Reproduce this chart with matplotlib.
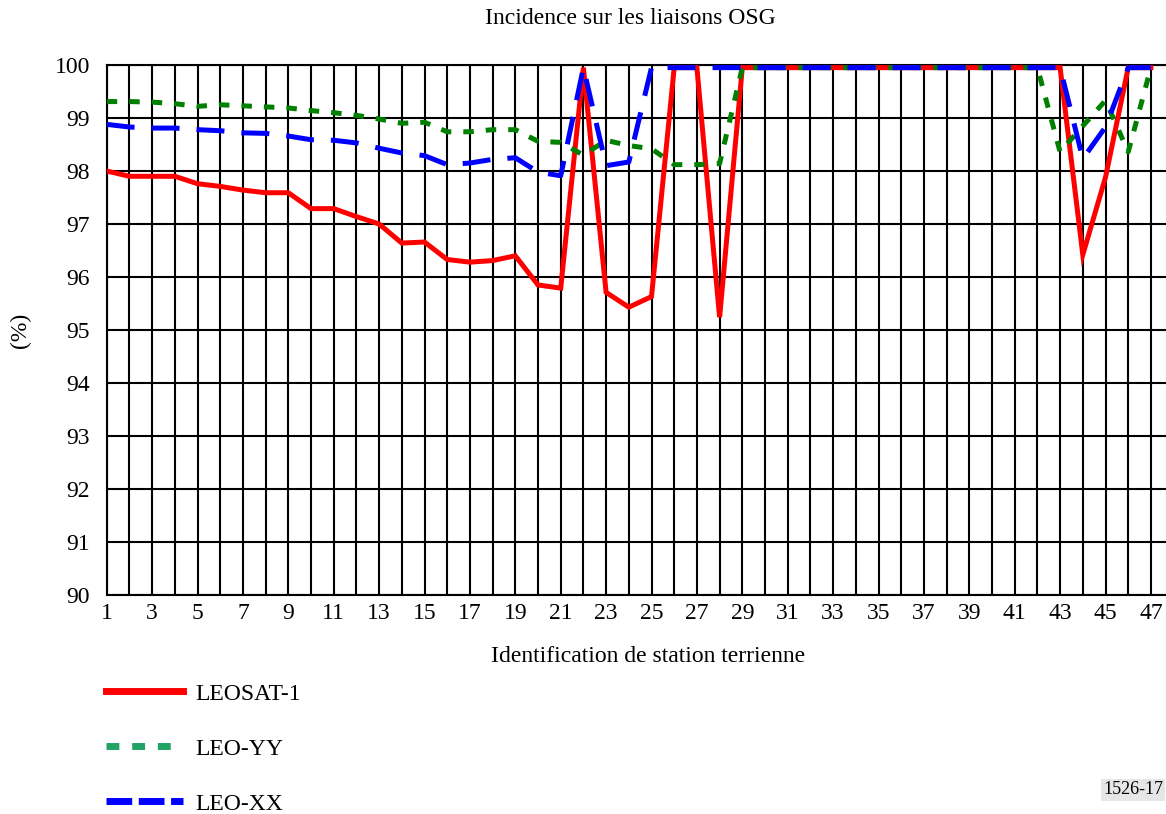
import matplotlib
matplotlib.use("Agg")
import matplotlib.pyplot as plt
from matplotlib.lines import Line2D

plt.rcParams['font.family'] = ['Liberation Serif', 'DejaVu Serif']

stations = list(range(1, 48))

leosat1 = [98.00, 97.90, 97.90, 97.90, 97.76, 97.71, 97.64, 97.59, 97.59, 97.29,
           97.29, 97.14, 97.00, 96.64, 96.66, 96.33, 96.28, 96.31, 96.40, 95.85,
           95.79, 99.95, 95.71, 95.43, 95.63, 99.95, 99.95, 95.24, 99.95, 99.95,
           99.95, 99.95, 99.95, 99.95, 99.95, 99.95, 99.95, 99.95, 99.95, 99.95,
           99.95, 99.95, 99.95, 96.42, 97.88, 99.95, 99.95]

leo_yy = [99.31, 99.31, 99.30, 99.27, 99.22, 99.25, 99.23, 99.21, 99.19, 99.14,
          99.10, 99.05, 98.98, 98.90, 98.92, 98.74, 98.74, 98.78, 98.78, 98.56,
          98.54, 98.30, 98.58, 98.48, 98.42, 98.12, 98.12, 98.14, 99.95, 99.95,
          99.95, 99.95, 99.95, 99.95, 99.95, 99.95, 99.95, 99.95, 99.95, 99.95,
          99.95, 99.95, 98.36, 98.85, 99.33, 98.36, 99.95]

leo_xx = [98.88, 98.83, 98.81, 98.81, 98.78, 98.76, 98.72, 98.71, 98.66, 98.59,
          98.58, 98.53, 98.43, 98.34, 98.29, 98.12, 98.15, 98.22, 98.25, 97.98,
          97.91, 99.95, 98.10, 98.17, 99.95, 99.95, 99.95, 99.95, 99.95, 99.95,
          99.95, 99.95, 99.95, 99.95, 99.95, 99.95, 99.95, 99.95, 99.95, 99.95,
          99.95, 99.95, 99.95, 98.23, 98.83, 99.95, 99.95]

series_names = ['LEOSAT-1', 'LEO-YY', 'LEO-XX']
x_tick_labels = [str(i) for i in range(1, 48, 2)]
y_ticks = list(range(90, 101))

title = 'Incidence sur les liaisons OSG'
xlabel = 'Identification de station terrienne'
ylabel = '(%)'
figure_id = '1526-17'

FS = 17
W, H = 1166, 814
fig = plt.figure(figsize=(W / 100, H / 100), dpi=100)
left_px, right_px, top_px, bottom_px = 106.7, 1166, 65, 595
ax = fig.add_axes([left_px / W, 1 - bottom_px / H,
                   (right_px - left_px) / W, (bottom_px - top_px) / H])

step = 22.7
ax.set_xlim(1, 1 + (right_px - left_px) / step)
ax.set_ylim(90, 100)

lw = 3.6
ax.plot(stations, leosat1, color='#ff0000', lw=lw, solid_joinstyle='miter', zorder=3)
ax.plot(stations, leo_yy, color='#008000', lw=lw, dashes=(2.1, 2.4), zorder=4)
ax.plot(stations, leo_xx, color='#0000ff', lw=lw, dashes=(5.6, 3.4), zorder=5)

ax.set_xticks(stations, minor=True)
ax.set_xticks(list(range(1, 48, 2)))
ax.set_xticklabels(x_tick_labels)
ax.set_yticks(y_ticks)
ax.set_yticklabels([str(v) for v in y_ticks])
ax.grid(True, which='both', axis='x', color='black', lw=1.5)
ax.grid(True, which='major', axis='y', color='black', lw=1.5)
ax.set_axisbelow(True)
ax.tick_params(axis='both', which='both', length=0, labelsize=FS)
ax.tick_params(axis='x', pad=6)
ax.tick_params(axis='y', pad=12)
for s in ['left', 'bottom', 'top']:
    ax.spines[s].set_linewidth(1.5)
ax.spines['right'].set_visible(False)

fig.text(630 / W, 1 - 19 / H, title, ha='center', va='center', fontsize=FS)
fig.text(648 / W, 1 - 657 / H, xlabel, ha='center', va='center', fontsize=FS)
fig.text(20 / W, 1 - 330 / H, ylabel, ha='center', va='center', fontsize=FS, rotation=90)
fig.text(1133 / W, 1 - 790 / H, figure_id, ha='center', va='center', fontsize=13,
         bbox=dict(facecolor='#e6e6e6', edgecolor='none', pad=1.5))

handles = [
    Line2D([], [], color='#ff0000', lw=5),
    Line2D([], [], color='#21a366', lw=5, dashes=(1.85, 1.85)),
    Line2D([], [], color='#0000ff', lw=5, dashes=(3.7, 0.95)),
]
fig.legend(handles, series_names, loc='upper left', bbox_to_anchor=(106 / W, 1 - 683 / H),
           frameon=False, fontsize=FS, handlelength=3.27, handletextpad=0.5,
           labelspacing=1.42, borderpad=0, borderaxespad=0)

fig.savefig('out.png', dpi=100)
